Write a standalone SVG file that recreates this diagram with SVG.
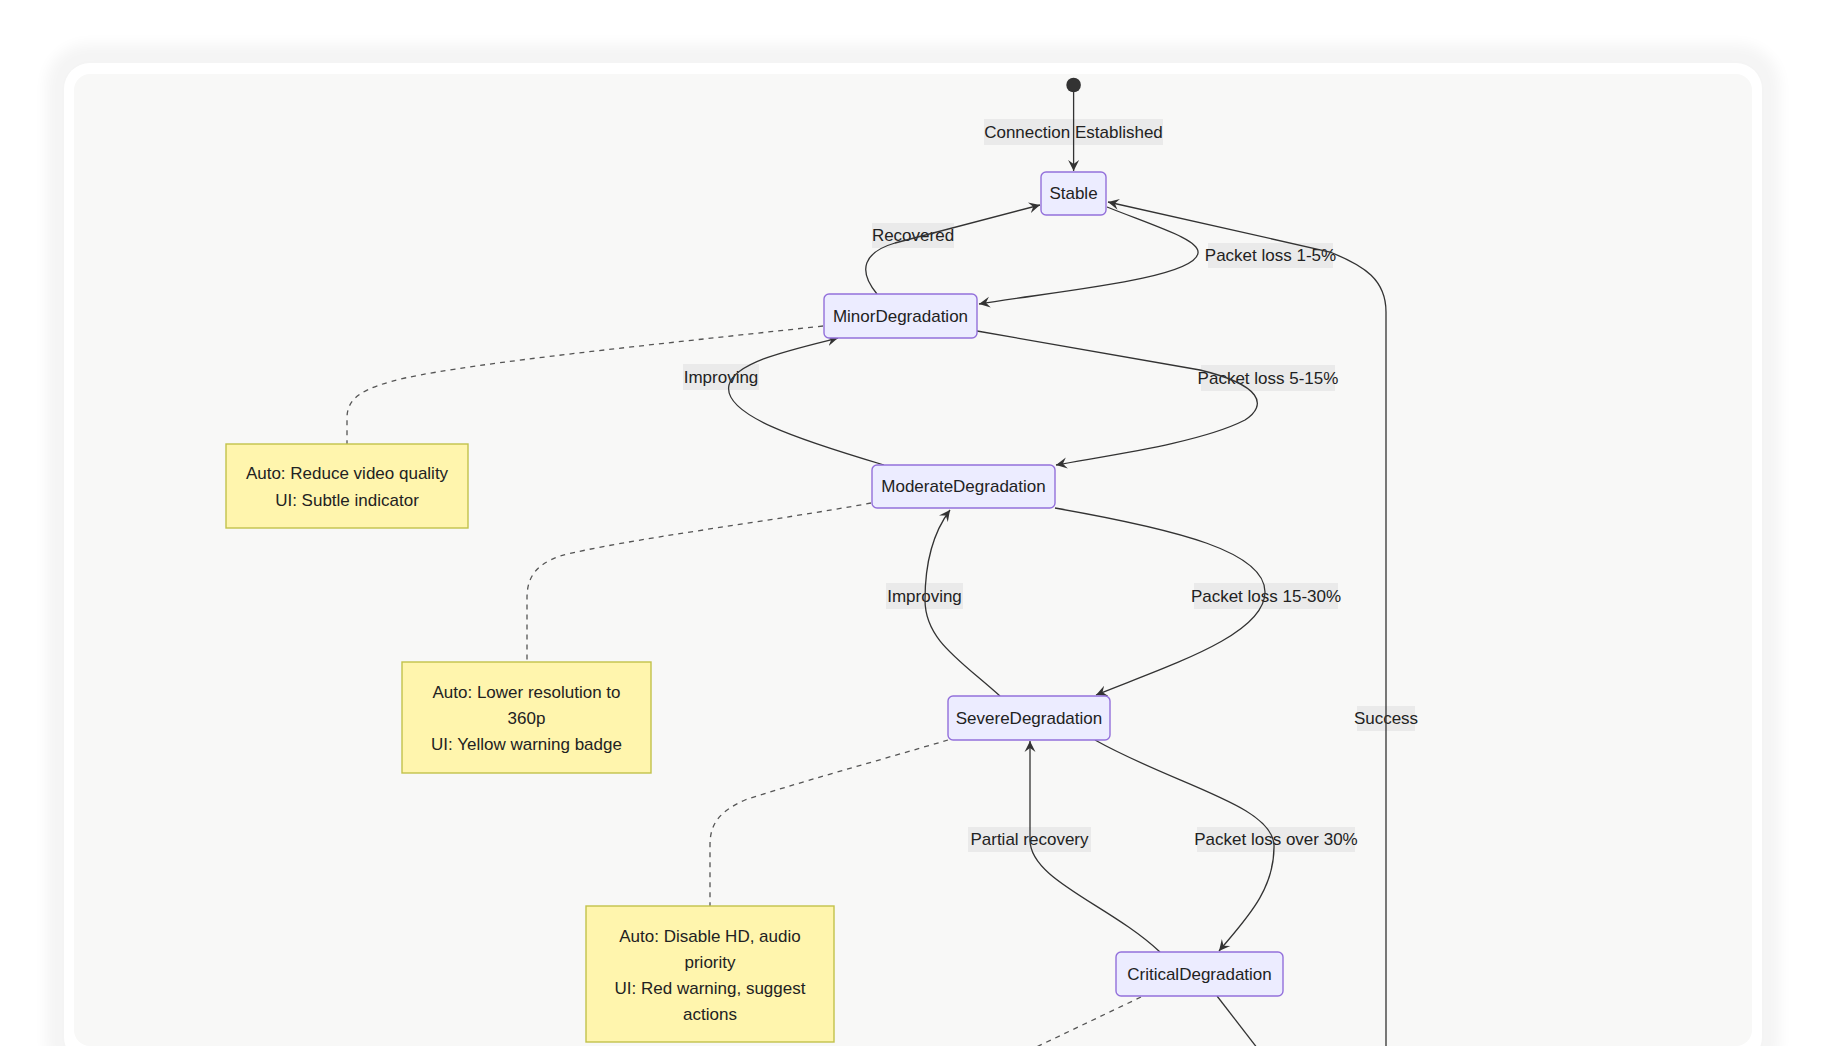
<svg xmlns="http://www.w3.org/2000/svg" width="1826" height="1046" viewBox="0 0 1826 1046">
<defs>
<filter id="sh" x="-5%" y="-5%" width="110%" height="110%"><feGaussianBlur stdDeviation="7"/></filter>
<marker id="arr" viewBox="0 0 12 12" refX="11" refY="6" markerWidth="12" markerHeight="12" markerUnits="userSpaceOnUse" orient="auto">
<path d="M0,0.5 L11,6 L0,11.5 L4,6 Z" fill="#333"/>
</marker>
<style>
text{font-family:"Liberation Sans",Arial,sans-serif;font-size:17px;fill:#222;text-anchor:middle;dominant-baseline:central}
.st{fill:#ECECFF;stroke:#9370DB;stroke-width:1.4}
.nt{fill:#fff5ad;stroke:#c2c24a;stroke-width:1.4}
.lb{fill:#e8e8e8;opacity:0.85}
.e{fill:none;stroke:#333;stroke-width:1.3}
.d{fill:none;stroke:#555;stroke-width:1.3;stroke-dasharray:5,5}
</style>
</defs>
<rect width="1826" height="1046" fill="#ffffff"/>
<rect x="46" y="44" width="1734" height="1040" rx="42" fill="#000" opacity="0.04" filter="url(#sh)"/>
<rect x="64" y="63" width="1698" height="1000" rx="26" fill="#ffffff"/>
<rect x="74" y="74" width="1678" height="972" rx="16" fill="#f8f8f7"/>

<g id="labels">
<rect class="lb" x="984" y="119" width="179" height="26"/><text x="1073.5" y="132">Connection Established</text>
<rect class="lb" x="872" y="223" width="82" height="25"/><text x="913" y="235.5">Recovered</text>
<rect class="lb" x="1208" y="243" width="125" height="25"/><text x="1270.5" y="255.5">Packet loss 1-5%</text>
<rect class="lb" x="683" y="364" width="76" height="26"/><text x="721" y="377">Improving</text>
<rect class="lb" x="1201" y="365" width="134" height="26"/><text x="1268" y="378">Packet loss 5-15%</text>
<rect class="lb" x="886" y="583" width="77" height="26"/><text x="924.5" y="596">Improving</text>
<rect class="lb" x="1194" y="583" width="144" height="26"/><text x="1266" y="596">Packet loss 15-30%</text>
<rect class="lb" x="1357" y="706" width="58" height="25"/><text x="1386" y="718.5">Success</text>
<rect class="lb" x="968" y="827" width="123" height="25"/><text x="1029.5" y="839.5">Partial recovery</text>
<rect class="lb" x="1197" y="827" width="158" height="25"/><text x="1276" y="839.5">Packet loss over 30%</text>
</g>

<g id="connectors">
<path class="e" d="M1073.6,92 L1073.6,171" marker-end="url(#arr)"/>
<path class="e" d="M877,294 C857,270 864,252 895,243 L1040,205" marker-end="url(#arr)"/>
<path class="e" d="M1107,207 C1160,228 1200,240 1198,253 C1195,279 1050,292 979,304" marker-end="url(#arr)"/>
<path class="e" d="M1386,1060 L1386,312 C1386,280 1365,266 1330,252 L1108,202" marker-end="url(#arr)"/>
<path class="e" d="M977,331 L1200,370 C1262,385 1268,405 1245,420 C1200,443 1110,455 1056,465" marker-end="url(#arr)"/>
<path class="e" d="M884,465 C800,440 722,415 729,385 C735,362 790,350 838,338" marker-end="url(#arr)"/>
<path class="e" d="M1055,508 C1180,530 1265,552 1265,592 C1265,635 1170,665 1096,695" marker-end="url(#arr)"/>
<path class="e" d="M1000,696 C960,660 925,640 925,600 C925,560 935,530 950,510" marker-end="url(#arr)"/>
<path class="e" d="M1095,740 C1175,785 1272,805 1274,845 C1275,890 1245,920 1219,951" marker-end="url(#arr)"/>
<path class="e" d="M1160,952 C1110,905 1030,880 1030,840 L1030,741" marker-end="url(#arr)"/>
<path class="e" d="M1217,996 L1268,1062"/>
<path class="d" d="M823,326 C650,345 480,362 405,378 C362,388 347,398 347,418 L347,444"/>
<path class="d" d="M871,503 C780,520 620,540 560,556 C535,565 527,578 527,598 L527,662"/>
<path class="d" d="M948,740 C880,760 790,785 745,800 C718,812 710,825 710,845 L710,906"/>
<path class="d" d="M1141,997 L1005,1062"/>
</g>

<g id="node-start"><circle cx="1073.6" cy="85" r="7.3" fill="#333"/></g>
<g id="node-stable"><rect class="st" x="1041" y="172" width="65" height="43" rx="5"/><text x="1073.5" y="193.5">Stable</text></g>
<g id="node-minor"><rect class="st" x="824" y="294" width="153" height="44" rx="5"/><text x="900.5" y="316">MinorDegradation</text></g>
<g id="node-moderate"><rect class="st" x="872" y="465" width="183" height="43" rx="5"/><text x="963.5" y="486.5">ModerateDegradation</text></g>
<g id="node-severe"><rect class="st" x="948" y="696" width="162" height="44" rx="5"/><text x="1029" y="718">SevereDegradation</text></g>
<g id="node-critical"><rect class="st" x="1116" y="952" width="167" height="44" rx="5"/><text x="1199.5" y="974">CriticalDegradation</text></g>

<g id="note-minor"><rect class="nt" x="226" y="444" width="242" height="84"/>
<text x="347" y="473">Auto: Reduce video quality</text><text x="347" y="500">UI: Subtle indicator</text></g>
<g id="note-moderate"><rect class="nt" x="402" y="662" width="249" height="111"/>
<text x="526.5" y="692">Auto: Lower resolution to</text><text x="526.5" y="718.5">360p</text><text x="526.5" y="744.5">UI: Yellow warning badge</text></g>
<g id="note-severe"><rect class="nt" x="586" y="906" width="248" height="136"/>
<text x="710" y="936">Auto: Disable HD, audio</text><text x="710" y="962">priority</text><text x="710" y="988">UI: Red warning, suggest</text><text x="710" y="1014">actions</text></g>
</svg>
